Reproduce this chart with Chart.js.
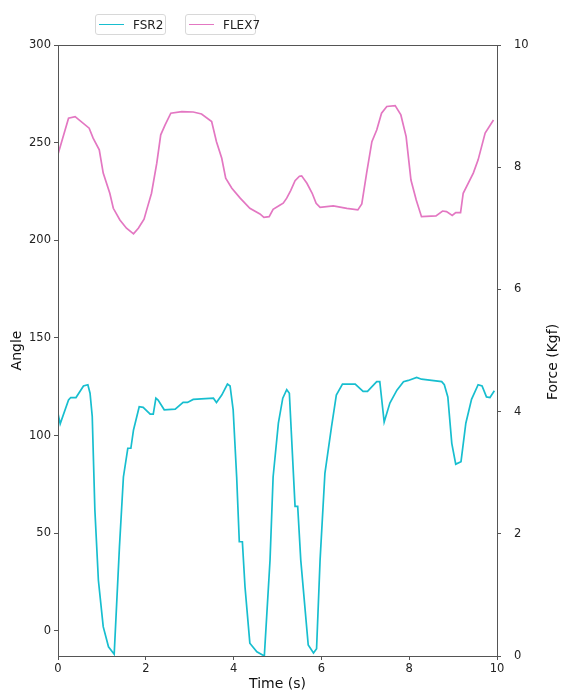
<!DOCTYPE html>
<html>
<head>
<meta charset="utf-8">
<script src="https://cdn.jsdelivr.net/npm/chart.js@4/dist/chart.umd.min.js"></script>
<style>
  html, body { margin: 0; padding: 0; background: #fff; }
  #wrap { position: relative; width: 561px; height: 690px; font-family: "DejaVu Sans", sans-serif; }
  .leg { position: absolute; top: 14px; height: 21px; border: 1px solid #d8d8d8; border-radius: 3px;
         background: #fff; font-size: 12px; color: #222; line-height: 20px; box-sizing: border-box; }
  .leg span.l { position: absolute; left: 3px; top: 9px; width: 25px; height: 0; border-top: 1.8px solid; }
  .leg span.t { position: absolute; left: 37px; top: 0; }
</style>
</head>
<body>
<div id="wrap">
  <canvas id="chart" width="561" height="690"></canvas>
  <div class="leg" style="left:95px;width:71px;"><span class="l" style="border-color:#17becf"></span><span class="t">FSR2</span></div>
  <div class="leg" style="left:185px;width:71px;"><span class="l" style="border-color:#e377c2"></span><span class="t">FLEX7</span></div>
</div>
<script>
// ─── Data ──────────────────────────────────────────────────────────────────
const fsrTime = [0, 0.05, 0.24, 0.29, 0.41, 0.58, 0.68, 0.73, 0.78, 0.84, 0.92, 1.03, 1.15, 1.28,
  1.40, 1.49, 1.59, 1.66, 1.72, 1.85, 1.94, 2.10, 2.17, 2.23, 2.28, 2.42, 2.67, 2.85, 2.95, 3.08,
  3.54, 3.61, 3.73, 3.86, 3.92, 3.99, 4.07, 4.13, 4.20, 4.26, 4.37, 4.53, 4.70, 4.83, 4.90, 5.02,
  5.12, 5.21, 5.27, 5.40, 5.46, 5.53, 5.70, 5.82, 5.89, 5.97, 6.08, 6.23, 6.34, 6.48, 6.77, 6.95,
  7.05, 7.26, 7.33, 7.43, 7.56, 7.72, 7.87, 7.98, 8.17, 8.28, 8.74, 8.80, 8.88, 8.97, 9.06, 9.18,
  9.29, 9.42, 9.57, 9.66, 9.76, 9.84, 9.94];
const fsrKgf = [3.97, 3.80, 4.19, 4.23, 4.23, 4.42, 4.44, 4.30, 3.92, 2.39, 1.24, 0.48, 0.15, 0.03,
  1.79, 2.93, 3.40, 3.40, 3.70, 4.08, 4.07, 3.96, 3.96, 4.22, 4.19, 4.03, 4.04, 4.15, 4.15, 4.20,
  4.22, 4.15, 4.27, 4.45, 4.42, 4.03, 2.93, 1.87, 1.87, 1.13, 0.21, 0.07, 0.00, 1.57, 2.93, 3.81,
  4.22, 4.36, 4.30, 2.45, 2.45, 1.57, 0.18, 0.05, 0.12, 1.57, 2.99, 3.75, 4.27, 4.45, 4.45, 4.33,
  4.33, 4.49, 4.49, 3.83, 4.14, 4.35, 4.49, 4.51, 4.56, 4.53, 4.49, 4.44, 4.24, 3.48, 3.14, 3.18,
  3.81, 4.20, 4.44, 4.42, 4.24, 4.23, 4.34];

const flexTime = [0, 0.24, 0.39, 0.71, 0.80, 0.94, 1.03, 1.18, 1.26, 1.41, 1.56, 1.72, 1.83, 1.96,
  2.02, 2.13, 2.25, 2.34, 2.44, 2.57, 2.82, 3.08, 3.27, 3.50, 3.61, 3.73, 3.82, 3.96, 4.15, 4.37,
  4.60, 4.69, 4.81, 4.90, 5.06, 5.13, 5.21, 5.30, 5.40, 5.50, 5.55, 5.67, 5.79, 5.88, 5.97, 6.27,
  6.58, 6.83, 6.92, 7.03, 7.15, 7.26, 7.37, 7.49, 7.68, 7.81, 7.93, 8.04, 8.16, 8.28, 8.61, 8.76,
  8.85, 8.98, 9.06, 9.17, 9.23, 9.46, 9.57, 9.73, 9.92];
const flexAngle = [244, 262.5, 263.3, 257.4, 252.3, 246.3, 234.4, 224.1, 216.4, 210.4, 206.2, 203.3,
  206.2, 210.8, 215.6, 224.1, 239.5, 254.0, 259.1, 265.1, 265.9, 265.7, 264.7, 260.8, 250.5, 242.0,
  231.8, 226.7, 221.6, 216.4, 213.5, 211.8, 212.1, 215.9, 218.1, 219.0, 221.6, 225.5, 230.5, 232.8,
  233.0, 229.2, 224.1, 219.0, 216.9, 217.6, 216.4, 215.6, 218.6, 234.4, 250.5, 256.5, 265.1, 268.5,
  269.0, 264.2, 253.1, 230.9, 220.7, 212.1, 212.5, 215.0, 214.7, 212.7, 214.2, 214.2, 224.1, 234.4,
  241.2, 254.9, 261.6];

const timeTicks = [0, 2, 4, 6, 8, 10];
const angleTicks = [0, 50, 100, 150, 200, 250, 300];
const forceTicks = [0, 2, 4, 6, 8, 10];

// ─── Helpers ───────────────────────────────────────────────────────────────
const toPoints = (xs, ys) => xs.map((x, i) => ({ x, y: ys[i] }));
const fixTicks = vals => scale => { scale.ticks = vals.map(v => ({ value: v })); };

const AXIS_COLOR = '#555';
const TICK_FONT = { family: 'DejaVu Sans', size: 11.5 };
const TITLE_FONT = { family: 'DejaVu Sans', size: 14 };

// box around the plot + right-hand title reading bottom-to-top
const frame = {
  id: 'frame',
  afterDatasetsDraw(chart) {
    const { ctx, chartArea: a } = chart;
    ctx.save();
    ctx.strokeStyle = AXIS_COLOR;
    ctx.lineWidth = 1;
    ctx.strokeRect(a.left + 0.5, a.top + 0.5, a.right - a.left, a.bottom - a.top);
    ctx.translate(553, 362);
    ctx.rotate(-Math.PI / 2);
    ctx.fillStyle = '#111';
    ctx.font = `${TITLE_FONT.size}px "${TITLE_FONT.family}"`;
    ctx.textAlign = 'center';
    ctx.textBaseline = 'middle';
    ctx.fillText('Force (Kgf)', 0, 0);
    ctx.restore();
  },
};

new Chart(document.getElementById('chart').getContext('2d'), {
  type: 'line',
  data: {
    datasets: [
      {
        label: 'FSR2',
        data: toPoints(fsrTime, fsrKgf),
        yAxisID: 'force',
        borderColor: '#17becf',
        borderWidth: 1.7,
        pointRadius: 0,
        tension: 0,
      },
      {
        label: 'FLEX7',
        data: toPoints(flexTime, flexAngle),
        yAxisID: 'angle',
        borderColor: '#e377c2',
        borderWidth: 1.7,
        pointRadius: 0,
        tension: 0,
      },
    ],
  },
  options: {
    animation: false,
    responsive: false,
    layout: { padding: { top: 45, left: 0, right: 0, bottom: 0 } },
    plugins: { legend: { display: false }, tooltip: { enabled: false } },
    scales: {
      x: {
        type: 'linear',
        min: 0,
        max: 10,
        afterBuildTicks: fixTicks(timeTicks),
        afterFit: s => { s.height = 34; },
        grid: { drawOnChartArea: false, tickLength: 4, color: AXIS_COLOR },
        border: { color: AXIS_COLOR },
        ticks: { color: '#222', font: TICK_FONT, padding: 2, maxRotation: 0 },
        title: { display: true, text: 'Time (s)', color: '#111', font: TITLE_FONT, padding: { top: 0, bottom: -3 } },
      },
      angle: {
        type: 'linear',
        position: 'left',
        min: -12.8,
        max: 300,
        afterBuildTicks: fixTicks(angleTicks),
        afterFit: s => { s.width = 58; },
        grid: { drawOnChartArea: false, tickLength: 4, color: AXIS_COLOR },
        border: { color: AXIS_COLOR },
        ticks: { color: '#222', font: TICK_FONT, padding: 3 },
        title: { display: true, text: 'Angle', color: '#111', font: TITLE_FONT, padding: { top: 9, bottom: 0 } },
      },
      force: {
        type: 'linear',
        position: 'right',
        min: 0,
        max: 10,
        afterBuildTicks: fixTicks(forceTicks),
        afterFit: s => { s.width = 64; },
        grid: { drawOnChartArea: false, tickLength: 4, color: AXIS_COLOR },
        border: { color: AXIS_COLOR },
        ticks: { color: '#222', font: TICK_FONT, padding: 13 },
      },
    },
  },
  plugins: [frame],
});
</script>
</body>
</html>
